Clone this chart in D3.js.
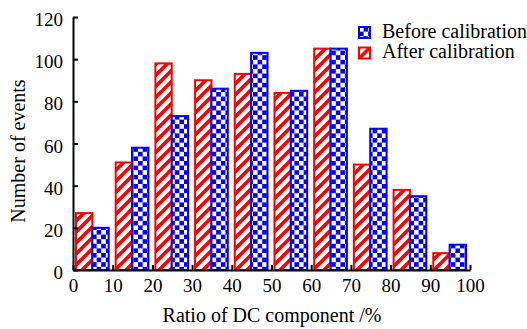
<!DOCTYPE html>
<html>
<head>
<meta charset="utf-8">
<script src="https://cdn.jsdelivr.net/npm/d3@7"></script>
<style>
  body { margin: 0; background: #fff; }
  svg { display: block; font-family: "Liberation Serif", "Times New Roman", serif; }
</style>
</head>
<body>
<svg id="chart" width="527" height="329"></svg>
<script>
// bins of the DC component ratio (left edge, %)
const bin_starts = [0, 10, 20, 30, 40, 50, 60, 70, 80, 90];
const after_calibration = [27, 51, 98, 90, 93, 84, 105, 50, 38, 8];
const before_calibration = [20, 58, 73, 86, 103, 85, 105, 67, 35, 12];
const x_ticks = [0, 10, 20, 30, 40, 50, 60, 70, 80, 90, 100];
const y_ticks = [0, 20, 40, 60, 80, 100, 120];
const legend_labels = ["Before calibration", "After calibration"];

const svg = d3.select("#chart");

const x = d3.scaleLinear().domain([0, 100]).range([73, 470]);
const y = d3.scaleLinear().domain([0, 120]).range([270, 17]);

const bar_offset = 0.75; // gap before the red bar, in %
const bar_width = 4.12; // each bar, in %

// patterns
const defs = svg.append("defs");

const s = 11; // stripe period
const stripes = defs
  .append("pattern")
  .attr("id", "stripes")
  .attr("patternUnits", "userSpaceOnUse")
  .attr("width", s)
  .attr("height", s);
stripes.append("rect").attr("width", s).attr("height", s).attr("fill", "#fff");
stripes
  .append("path")
  .attr("d", `M-3,3 L3,-3 M0,${s} L${s},0 M${s - 3},${s + 3} L${s + 3},${s - 3}`)
  .attr("stroke", "#ff0000")
  .attr("stroke-width", 3.6);

const c = 4.6; // checker square
const checks = defs
  .append("pattern")
  .attr("id", "checks")
  .attr("patternUnits", "userSpaceOnUse")
  .attr("width", 2 * c)
  .attr("height", 2 * c);
checks.append("rect").attr("width", 2 * c).attr("height", 2 * c).attr("fill", "#0000ff");
checks.append("rect").attr("width", c).attr("height", c).attr("fill", "#fff");
checks
  .append("rect")
  .attr("x", c)
  .attr("y", c)
  .attr("width", c)
  .attr("height", c)
  .attr("fill", "#fff");

// bars
const chart = svg.append("g");

chart
  .append("g")
  .selectAll("rect")
  .data(bin_starts)
  .join("rect")
  .attr("x", (d) => x(d + bar_offset))
  .attr("y", (d, i) => y(after_calibration[i]))
  .attr("width", (d) => x(d + bar_offset + bar_width) - x(d + bar_offset))
  .attr("height", (d, i) => y(0) - y(after_calibration[i]))
  .attr("fill", "url(#stripes)")
  .attr("stroke", "#ff0000")
  .attr("stroke-width", 2);

chart
  .append("g")
  .selectAll("rect")
  .data(bin_starts)
  .join("rect")
  .attr("x", (d) => x(d + bar_offset + bar_width))
  .attr("y", (d, i) => y(before_calibration[i]))
  .attr("width", (d) => x(d + bar_offset + 2 * bar_width) - x(d + bar_offset + bar_width))
  .attr("height", (d, i) => y(0) - y(before_calibration[i]))
  .attr("fill", "url(#checks)")
  .attr("stroke", "#0000ff")
  .attr("stroke-width", 2);

// axes
const x_axis = chart
  .append("g")
  .attr("transform", `translate(0, ${y(0)})`)
  .call(
    d3
      .axisBottom(x)
      .tickValues(x_ticks)
      .tickSizeInner(-5)
      .tickSizeOuter(0)
      .tickPadding(9)
  );

const y_axis = chart
  .append("g")
  .attr("transform", `translate(${x(0)}, 0)`)
  .call(
    d3
      .axisLeft(y)
      .tickValues(y_ticks)
      .tickSizeInner(-5)
      .tickSizeOuter(0)
      .tickPadding(10)
  );

[x_axis, y_axis].forEach((g) => {
  g.attr("font-family", null).attr("font-size", 19);
  g.selectAll("path, line").attr("stroke", "#000").attr("stroke-width", 2);
  g.selectAll("text").attr("fill", "#000");
});
y_axis.selectAll("text").attr("dy", "0.45em");

// axis titles
svg
  .append("text")
  .attr("x", 272)
  .attr("y", 322)
  .attr("text-anchor", "middle")
  .attr("font-size", 20)
  .text("Ratio of DC component /%");

svg
  .append("text")
  .attr("transform", "translate(25, 151) rotate(-90)")
  .attr("text-anchor", "middle")
  .attr("font-size", 20)
  .text("Number of events");

// legend
const legend = svg
  .append("g")
  .selectAll("g")
  .data(legend_labels)
  .join("g")
  .attr("transform", (d, i) => `translate(359, ${27 + i * 20.5})`);

legend
  .append("rect")
  .attr("width", 11)
  .attr("height", 11)
  .attr("fill", (d, i) => (i === 0 ? "url(#checks)" : "url(#stripes)"))
  .attr("stroke", (d, i) => (i === 0 ? "#0000ff" : "#ff0000"))
  .attr("stroke-width", 2);

legend
  .append("text")
  .attr("x", 23)
  .attr("y", 10.5)
  .attr("font-size", 20)
  .text((d) => d);
</script>
</body>
</html>
